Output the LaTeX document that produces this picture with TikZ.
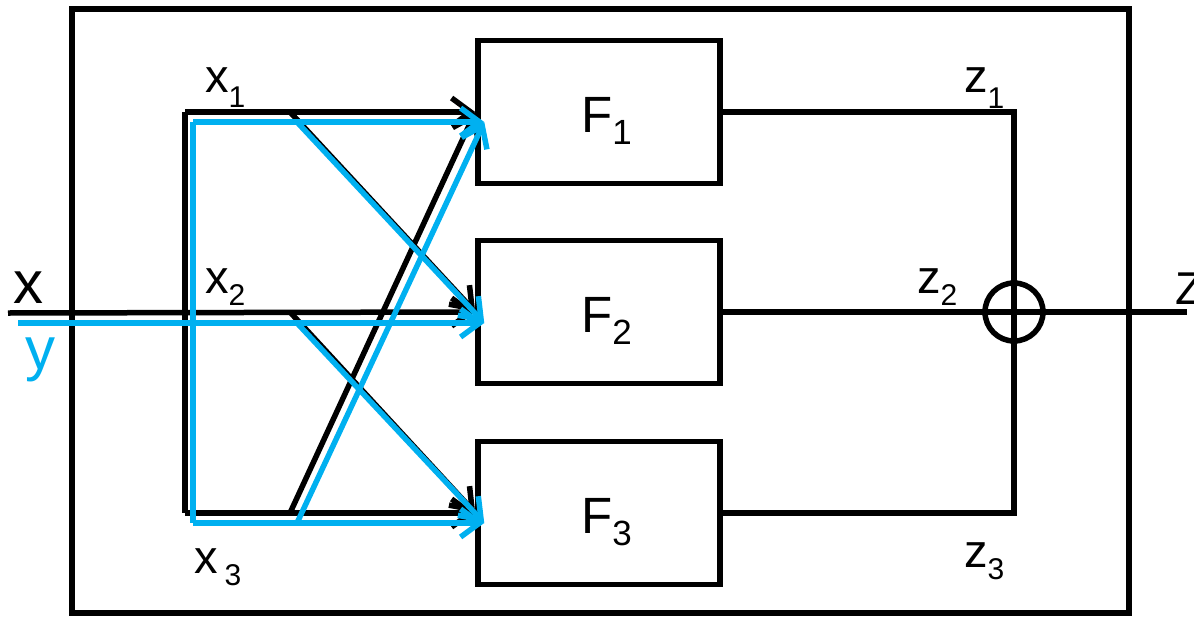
\documentclass[tikz,border=0pt]{standalone}
\usepackage{fontspec}
\setmainfont{Liberation Sans}
\usetikzlibrary{arrows.meta,calc}
\definecolor{sky}{RGB}{0,176,240}
\newcommand\fsbig{\fontsize{60}{62}\selectfont}
\newcommand\fsmid{\fontsize{47}{50}\selectfont}
\newcommand\fsF{\fontsize{51}{54}\selectfont}
\newcommand\lowsub[3]{\raisebox{-#1}{\fontsize{#2}{#2}\selectfont #3}}
\begin{document}
\begin{tikzpicture}[x=1pt,y=-1pt,
  wire/.style={line width=5.5pt},
  bwire/.style={line width=5.5pt,draw=sky},
  arr/.style={-{Straight Barb[length=19pt,width=28pt]}},
  fbox/.style={draw,line width=5.5pt,minimum width=242pt,minimum height=143pt,inner sep=0pt},
  lbl/.style={inner sep=0pt,anchor=base west},
]
\useasboundingbox (0,0) rectangle (1194,616);
\draw[line width=5.5pt] (72,9) rectangle (1129,613);

% function boxes
\node[fbox] (F1) at (599,112) {};
\node[fbox] (F2) at (599,312) {};
\node[fbox] (F3) at (599,513) {};
\node[draw,circle,line width=5.5pt,minimum size=58pt,inner sep=0pt] (sum) at (1014,312) {};

% box labels
\node[lbl,font=\fsF] (tF1) at (581,132) {F\lowsub{12pt}{35}{1}};
\node[lbl,font=\fsF] (tF2) at (581,332) {F\lowsub{12pt}{35}{2}};
\node[lbl,font=\fsF] (tF3) at (581,533) {F\lowsub{12pt}{35}{3}};

% black input network
\coordinate (xin) at (8,313);
\coordinate (a1) at (185,112);
\coordinate (a3) at (185,513);
\coordinate (d1) at (290,112);
\coordinate (d2) at (290,312);
\coordinate (d3) at (290,513);
\draw[wire,arr] (xin) -- (F2.west);
\draw[wire] (a1) -- (a3);
\draw[wire,arr] (a1) -- (F1.west);
\draw[wire,arr] (a3) -- (F3.west);
\draw[wire,arr] (d1) -- (F2.west);
\draw[wire,arr] (d2) -- (F3.west);
\draw[wire,arr] (d3) -- (F1.west);

% blue input network
\coordinate (yin) at (18,323);
\coordinate (b1) at (193,122);
\coordinate (b3) at (193,523);
\coordinate (e1) at (297,122);
\coordinate (e2) at (297,323);
\coordinate (e3) at (297,523);
\coordinate (g1) at ($(F1.west)+(9,10)$);
\coordinate (g2) at ($(F2.west)+(9,11)$);
\coordinate (g3) at ($(F3.west)+(9,10)$);
\draw[bwire,arr] (yin) -- (g2);
\draw[bwire] (b1) -- (b3);
\draw[bwire,arr] (b1) -- (g1);
\draw[bwire,arr] (b3) -- (g3);
\draw[bwire,arr] (e1) -- (g2);
\draw[bwire,arr] (e2) -- (g3);
\draw[bwire,arr] (e3) -- (g1);

% output network
\coordinate (zout) at (1187,312);
\draw[wire] (F1.east) -- (F1.east -| sum.center) -- (F3.east -| sum.center) -- (F3.east);
\draw[wire] (F2.east) -- (zout);

% labels
\node[lbl,font=\fsbig] (lx) at (13,303) {x};
\node[lbl,font=\fsbig,text=sky] (ly) at (25,369) {y};
\node[lbl,font=\fsmid] (lx1) at (205,92) {x\lowsub{15pt}{30}{1}};
\node[lbl,font=\fsmid] (lx2) at (205,293) {x\lowsub{12pt}{30}{2}};
\node[lbl,font=\fsmid] (lx3) at (194,573) {x\kern7pt\lowsub{12pt}{30}{3}};
\node[lbl,font=\fsmid] (lz1) at (964,92) {z\lowsub{16pt}{30}{1}};
\node[lbl,font=\fsmid] (lz2) at (917,293) {z\lowsub{12pt}{30}{2}};
\node[lbl,font=\fsmid] (lz3) at (964,567) {z\lowsub{12pt}{30}{3}};
\node[lbl,font=\fontsize{46}{48}\selectfont] (lZ) at (1175,304) {Z};
\end{tikzpicture}
\end{document}
